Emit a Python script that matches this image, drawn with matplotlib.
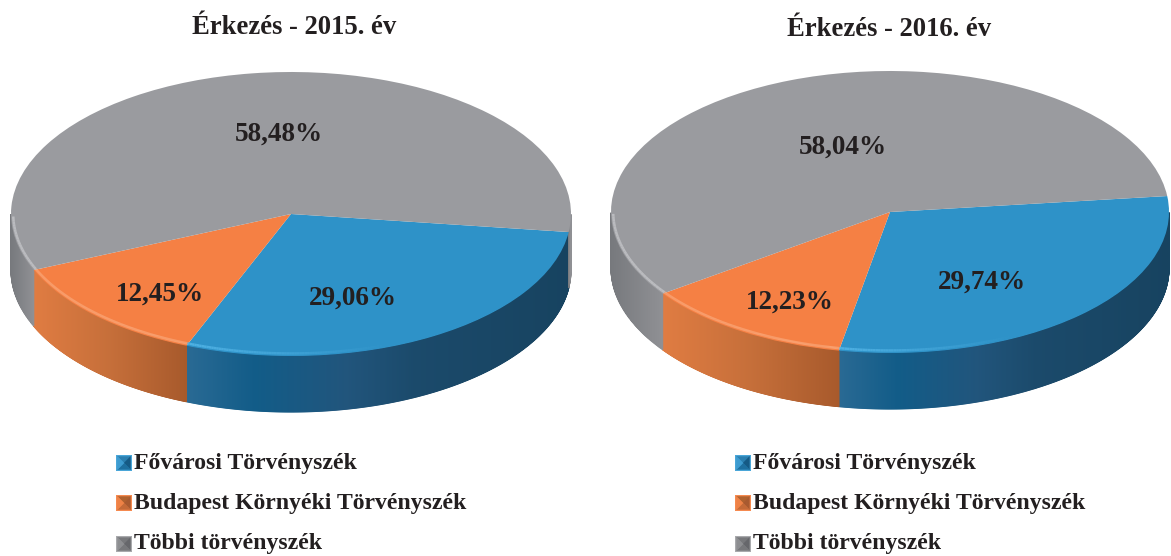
import numpy as np
import matplotlib
matplotlib.use("Agg")
import matplotlib.pyplot as plt
from matplotlib.patches import Polygon, Rectangle

categories = ["Fővárosi Törvényszék", "Budapest Környéki Törvényszék", "Többi törvényszék"]
values_2015 = [29.06, 12.45, 58.48]
values_2016 = [29.74, 12.23, 58.04]
labels_2015 = ["29,06%", "12,45%", "58,48%"]
labels_2016 = ["29,74%", "12,23%", "58,04%"]
title_2015 = "Érkezés - 2015. év"
title_2016 = "Érkezés - 2016. év"

W, H = 1171, 556
TOP = ["#2e92c8", "#f58044", "#9a9b9f"]
RIM = ["#52b4e6", "#fbae82", "#c9cacd"]
# colour stops along the visible side wall (relative position, colour)
SIDE = [
    [(0, "#2a6a94"), (0.18, "#125c88"), (0.42, "#21557c"), (0.6, "#1b4a6b"), (1, "#174360")],
    [(0, "#e07c42"), (0.5, "#c66f3a"), (1, "#a85a2c")],
    [(0, "#77797d"), (1, "#8f9094")],
]
SERIF = "Liberation Serif"
INK = "#231f20"

fig = plt.figure(figsize=(W / 100, H / 100), dpi=100, facecolor="white")


def lerp(stops, t):
    xs = [s[0] for s in stops]
    rgb = np.array([matplotlib.colors.to_rgb(s[1]) for s in stops])
    return tuple(np.interp(t, xs, rgb[:, k]) for k in range(3))


def draw_pie(values, labels, title, cx, cy, rx, ry, depth, start, title_xy, label_xy):
    # axes whose unit circle maps to the ellipse of the pie top
    x0, x1, y0, y1 = -1.06, 1.06, -1.6, 1.06
    l, r = cx + x0 * rx, cx + x1 * rx
    b, t = (H - cy) + y0 * ry, (H - cy) + y1 * ry
    ax = fig.add_axes([l / W, b / H, (r - l) / W, (t - b) / H])
    d = depth / ry

    fr = np.array(values) / np.sum(values)
    edges = start - np.concatenate([[0], np.cumsum(fr) * 360])

    # side wall strips, drawn first
    for i in range(3):
        a_hi, a_lo = edges[i], edges[i + 1]
        angs = np.linspace(a_lo, a_hi, 500)
        rad = np.deg2rad(angs)
        vis = np.sin(rad) <= 0.0
        angs = angs[vis]
        if len(angs) < 2:
            continue
        if i == 2:
            # the wall of the last slice may be split to both sides
            groups = np.split(angs, np.where(np.diff(angs) > 5)[0] + 1)
        else:
            groups = [angs]
        for g in groups:
            if len(g) < 2:
                continue
            xs = np.cos(np.deg2rad(g))
            xmin, xmax = xs.min(), xs.max()
            for a, b2 in zip(g[:-1], g[1:]):
                p, q = np.deg2rad(a), np.deg2rad(b2)
                xm = (np.cos(p) + np.cos(q)) / 2
                tt = (xm - xmin) / max(xmax - xmin, 1e-6)
                c = lerp(SIDE[i], tt)
                pts = [(np.cos(p), np.sin(p)), (np.cos(q), np.sin(q)),
                       (np.cos(q), np.sin(q) - d), (np.cos(p), np.sin(p) - d)]
                ax.add_patch(Polygon(pts, closed=True, fc=c, ec=c, lw=0.8, zorder=1))

    ax.pie(values, colors=TOP, startangle=start, counterclock=False, radius=1,
           wedgeprops=dict(linewidth=0), frame=False, normalize=True)
    for w in ax.patches:
        if hasattr(w, "theta1"):
            w.set_zorder(2)

    # light rim along the front edge of the top
    for i in range(3):
        g = np.linspace(edges[i + 1], edges[i], 200)
        g = g[np.sin(np.deg2rad(g)) <= 0.0]
        if len(g) < 2:
            continue
        xs, ys = np.cos(np.deg2rad(g)), np.sin(np.deg2rad(g))
        for k in range(len(g) - 1):
            if g[k + 1] - g[k] > 5:
                continue
            if i == 0:
                alpha = max(0.0, 0.9 - 1.7 * (xs[k] - xs.min()) / (xs.max() - xs.min()))
            elif i == 1:
                alpha = 0.7
            else:
                alpha = 0.7 if xs[k] < 0 else 0.0
            if alpha > 0:
                ax.plot(xs[k:k + 2] * 0.992, ys[k:k + 2] * 0.982, color=RIM[i], lw=1.8,
                        alpha=alpha, solid_capstyle="butt", zorder=3)

    ax.set_xlim(x0, x1)
    ax.set_ylim(y0, y1)
    ax.set_aspect("auto")
    ax.axis("off")

    fig.text(title_xy[0] / W, 1 - title_xy[1] / H, title, family=SERIF, weight="bold",
             fontsize=19.2, color=INK, ha="center", va="center")
    for lab, (lx, ly) in zip(labels, label_xy):
        fig.text(lx / W, 1 - ly / H, lab, family=SERIF, weight="bold", fontsize=19.5,
                 color=INK, ha="center", va="center")


draw_pie(values_2015, labels_2015, title_2015, 291, 214, 280, 142, 56, -7.3,
         (294, 27), [(353, 298), (160, 294), (279, 134)])
draw_pie(values_2016, labels_2016, title_2016, 890, 212, 279, 141, 56, 6.5,
         (889, 30), [(982, 282), (790, 302), (843, 147)])

# legends, pixel coordinates
ov = fig.add_axes([0, 0, 1, 1], facecolor="none")
ov.set_xlim(0, W)
ov.set_ylim(H, 0)
ov.axis("off")
# border, top, right, bottom, left shades
ICON = [("#4aa6d8", "#2b7fb0", "#155a85", "#1d6f9f", "#3d9bd0"),
        ("#f58a50", "#b0622f", "#a85a30", "#c46a38", "#ee8246"),
        ("#a9aaad", "#77787b", "#66676b", "#77787b", "#8d8e91")]


def icon(x, yc, shades, s=16):
    y = yc - s / 2
    ov.add_patch(Rectangle((x, y), s, s, fc=shades[0], ec="none"))
    m = 1.5
    c = (x + s / 2, yc)
    corners = [(x + m, y + m), (x + s - m, y + m), (x + s - m, y + s - m), (x + m, y + s - m)]
    for k in range(4):
        col = shades[k + 1]
        ov.add_patch(Polygon([corners[k], corners[(k + 1) % 4], c], closed=True,
                             fc=col, ec=col, lw=0.3))


for lx_icon, lx_text in [(116, 134), (735, 753)]:
    for yy, name, shades in zip([463, 503, 544], categories, ICON):
        icon(lx_icon, yy, shades)
        ov.text(lx_text, yy, name, family=SERIF, weight="bold", fontsize=17.1,
                color=INK, ha="left", va="center")

fig.savefig("out.png", dpi=100, facecolor="white")
